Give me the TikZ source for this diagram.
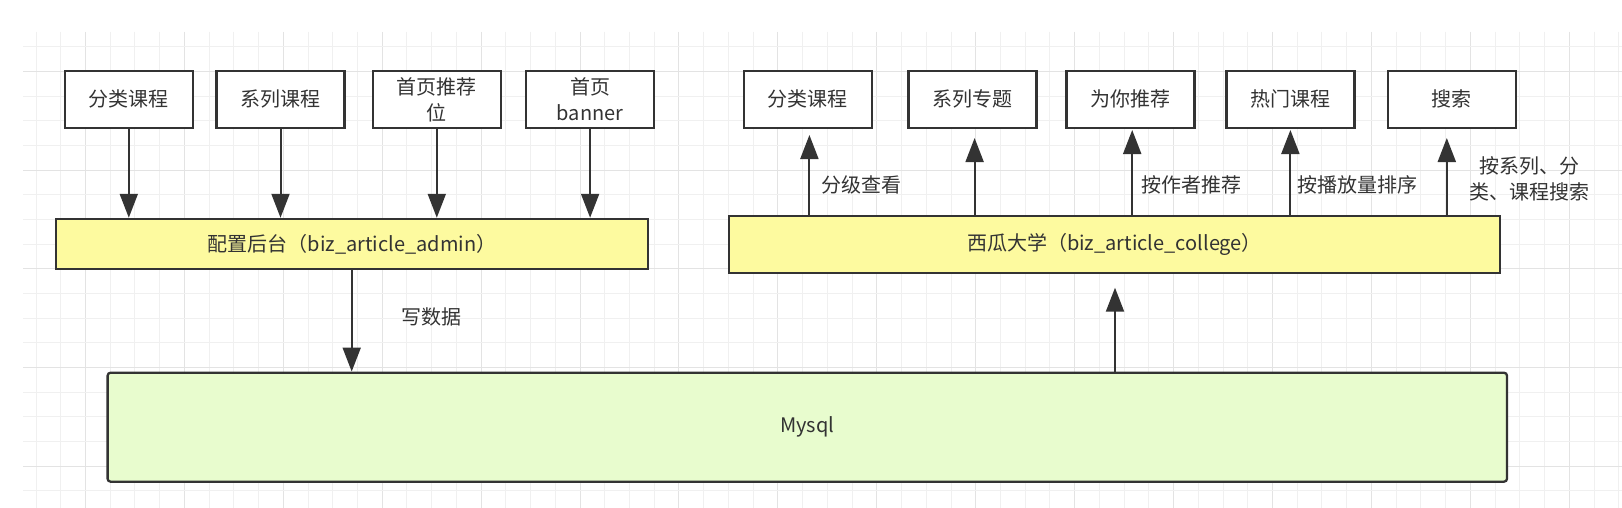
\documentclass[tikz,border=0pt]{standalone}
\usepackage{fontspec}
\setmainfont{Noto Sans CJK SC}
\usetikzlibrary{arrows.meta}
\definecolor{txt}{HTML}{333333}
\definecolor{edge}{HTML}{333333}
\definecolor{barY}{HTML}{FDFA9F}
\definecolor{dbG}{HTML}{E8FCCE}
\definecolor{gminor}{HTML}{F0F0F0}
\definecolor{gmajor}{HTML}{E3E3E3}
\tikzset{
  boxnode/.style={draw=edge, line width=1.15pt, fill=white, minimum width=64pt, minimum height=28.7pt,
    inner sep=0pt, align=center, text=txt, font=\fontsize{10}{13}\selectfont},
  barnode/.style={boxnode, fill=barY},
  dbnode/.style={boxnode, fill=dbG, rounded corners=1.5pt},
  lbl/.style={text=txt, inner sep=0pt, align=center, font=\fontsize{10}{13}\selectfont},
  arr/.style={draw=edge, line width=1pt, -{Triangle[width=9pt,length=12pt]}},
  gridminor/.style={draw=gminor, line width=0.5pt},
  gridmajor/.style={draw=gmajor, line width=0.5pt}
}
\begin{document}
\begin{tikzpicture}[x=0.5pt,y=-0.5pt]
\useasboundingbox (0,0) rectangle (1622,508);
\fill[white] (0,0) rectangle (1622,508);
% grid
\begin{scope}
\clip (23,32) rectangle (1622,508);
\foreach \k in {0,...,64}{
  \pgfmathsetmacro\xx{36+24.73*\k}
  \pgfmathtruncatemacro\m{mod(\k,4)}
  \ifnum\m=2 \draw[gridmajor] (\xx,32) -- (\xx,508); \else \draw[gridminor] (\xx,32) -- (\xx,508); \fi
}
\foreach \k in {0,...,18}{
  \pgfmathsetmacro\yy{46.7+24.68*\k}
  \pgfmathtruncatemacro\m{mod(\k,4)}
  \ifnum\m=1 \draw[gridmajor] (23,\yy) -- (1622,\yy); \else \draw[gridminor] (23,\yy) -- (1622,\yy); \fi
}
\end{scope}
% left boxes
\node[boxnode] (a1) at (128.8,99.4) {分类课程};
\node[boxnode] (a2) at (280.5,99.4) {系列课程};
\node[boxnode] (a3) at (436.8,99.4) {首页推荐\\位};
\node[boxnode] (a4) at (590.1,99.4) {首页\\banner};
\node[barnode, minimum width=296pt, minimum height=25.2pt] (admin) at (352.2,244.1) {配置后台（biz\_article\_admin）};
% right boxes
\node[boxnode] (b1) at (807.9,99.4) {分类课程};
\node[boxnode] (b2) at (972.5,99.4) {系列专题};
\node[boxnode] (b3) at (1130.4,99.4) {为你推荐};
\node[boxnode] (b4) at (1290.6,99.4) {热门课程};
\node[boxnode] (b5) at (1451.8,99.4) {搜索};
\node[barnode, minimum width=385.2pt, minimum height=28.4pt] (college) at (1114.5,244.3) {西瓜大学（biz\_article\_college）};
% database
\node[dbnode, minimum width=699.7pt, minimum height=54.5pt] (db) at (807.3,427.2) {Mysql};
% left arrows
\foreach \n in {a1,a2,a3,a4}{
  \draw[arr] (\n.south) -- (\n.south |- admin.north);
}
% admin -> db
\coordinate (wx) at (351.7,0);
\draw[arr] (admin.south -| wx) -- (db.north -| wx);
\node[lbl] (wlbl) at (431,317) {写数据};
% db -> college
\coordinate (ut) at (1115,287.7);
\draw[arr] (db.north -| ut) -- (ut);
% college -> right boxes
\coordinate (t1) at (809.4,135);
\coordinate (t2) at (974.6,138);
\coordinate (t3) at (1132.2,130);
\coordinate (t4) at (1290.4,130);
\coordinate (t5) at (1446.8,138);
\foreach \t in {t1,t2,t3,t4,t5}{
  \draw[arr] (college.north -| \t) -- (\t);
}
\node[lbl] (l1) at (861.7,185) {分级查看};
\node[lbl] (l3) at (1191,185) {按作者推荐};
\node[lbl] (l4) at (1357,185) {按播放量排序};
\node[lbl] (l5) at (1529,179) {按系列、分\\类、课程搜索};
\end{tikzpicture}
\end{document}
